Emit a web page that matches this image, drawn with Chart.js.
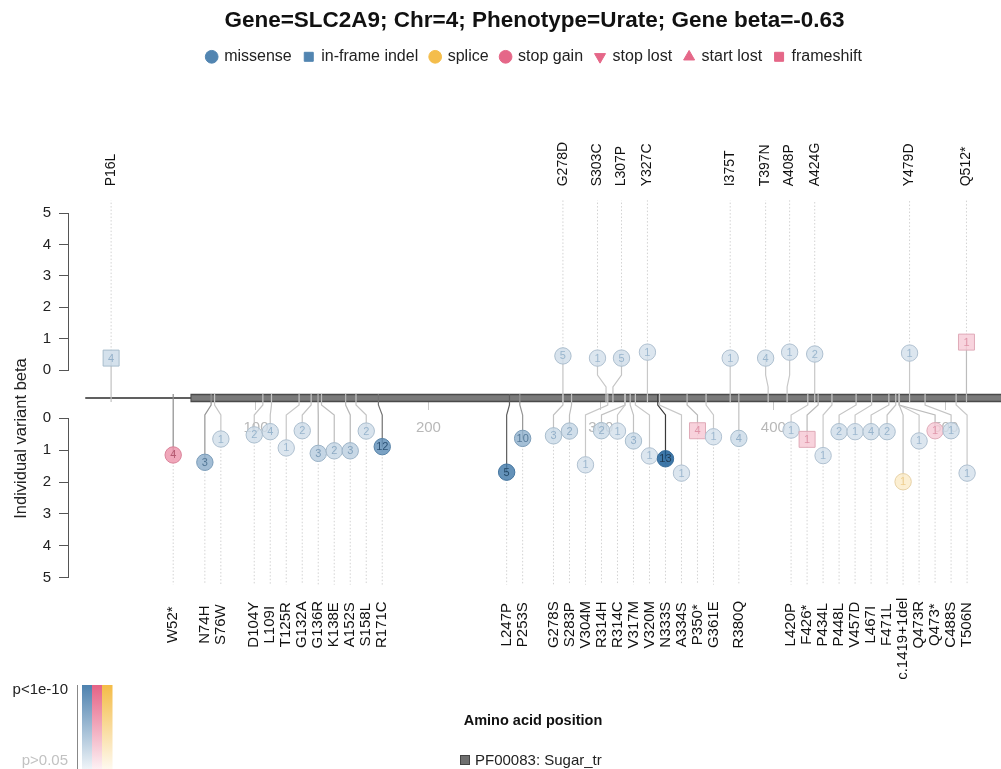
<!DOCTYPE html>
<html>
<head>
<meta charset="utf-8">
<title>SLC2A9 lollipop</title>
<script src="https://cdn.jsdelivr.net/npm/chart.js@4.4.1/dist/chart.umd.min.js"></script>
<style>
  html, body { margin: 0; padding: 0; background: #fff; }
</style>
</head>
<body>
<canvas id="lolli" width="1001" height="769"></canvas>
<script>
// variants with a positive beta (drawn above the protein)
const upperNames = ['P16L', 'G278D', 'S303C', 'L307P', 'Y327C', 'I375T', 'T397N', 'A408P', 'A424G', 'Y479D', 'Q512*'];
const upperPos = [16, 278, 303, 307, 327, 375, 397, 408, 424, 479, 512];
const upperBeta = [0.38, 0.45, 0.38, 0.38, 0.57, 0.38, 0.38, 0.57, 0.51, 0.54, 0.89];
const upperCount = [4, 5, 1, 5, 1, 1, 4, 1, 2, 1, 1];
const upperType = ['in-frame indel', 'missense', 'missense', 'missense', 'missense', 'missense',
  'missense', 'missense', 'missense', 'missense', 'frameshift'];
const upperLogP = [2.0, 1.8, 1.6, 1.8, 1.6, 1.6, 1.7, 1.6, 1.7, 1.6, 2.3];

// variants with a negative beta (drawn below the protein)
const lowerNames = ['W52*', 'N74H', 'S76W', 'D104Y', 'L109I', 'T125R', 'G132A', 'G136R', 'K138E', 'A152S',
  'S158L', 'R171C', 'L247P', 'P253S', 'G278S', 'S283P', 'V304M', 'R314H', 'R314C', 'V317M', 'V320M',
  'N333S', 'A334S', 'P350*', 'G361E', 'R380Q', 'L420P', 'F426*', 'P434L', 'P448L', 'V457D', 'L467I',
  'F471L', 'c.1419+1del', 'Q473R', 'Q473*', 'C488S', 'T506N'];
const lowerPos = [52, 74, 76, 104, 109, 125, 132, 136, 138, 152, 158, 171, 247, 253, 278, 283, 304, 314, 314,
  317, 320, 333, 334, 350, 361, 380, 420, 426, 434, 448, 457, 467, 471, 473, 473, 473, 488, 506];
const lowerBeta = [-1.15, -1.38, -0.65, -0.52, -0.42, -0.93, -0.39, -1.10, -1.02, -1.02, -0.40, -0.89, -1.69,
  -0.63, -0.55, -0.40, -1.46, -0.39, -0.40, -0.71, -1.18, -1.27, -1.72, -0.39, -0.58, -0.63, -0.37, -0.66,
  -1.17, -0.42, -0.42, -0.42, -0.42, -1.99, -0.71, -0.39, -0.39, -1.72];
const lowerCount = [4, 3, 1, 2, 4, 1, 2, 3, 2, 3, 2, 12, 5, 10, 3, 2, 1, 2, 1, 3, 1, 13, 1, 4, 1, 4, 1, 1, 1,
  2, 1, 4, 2, 1, 1, 1, 1, 1];
const lowerType = ['stop gain', 'missense', 'missense', 'missense', 'missense', 'missense', 'missense',
  'missense', 'missense', 'missense', 'missense', 'missense', 'missense', 'missense', 'missense', 'missense',
  'missense', 'missense', 'missense', 'missense', 'missense', 'missense', 'missense', 'frameshift',
  'missense', 'missense', 'missense', 'frameshift', 'missense', 'missense', 'missense', 'missense',
  'missense', 'splice', 'missense', 'stop gain', 'missense', 'missense'];
const lowerLogP = [5.0, 4.6, 1.7, 1.8, 1.8, 1.6, 1.8, 2.8, 2.2, 2.6, 1.8, 6.6, 7.8, 4.5, 2.0, 2.2, 1.6, 2.0,
  1.6, 2.0, 1.6, 9.8, 1.6, 2.4, 1.6, 2.0, 1.6, 2.4, 1.6, 1.8, 1.6, 1.8, 1.8, 2.0, 1.6, 2.3, 1.8, 1.6];

const variantTypes = ['missense', 'in-frame indel', 'splice', 'stop gain', 'stop lost', 'start lost', 'frameshift'];
const xTicks = [100, 200, 300, 400, 500];
const proteinLength = 540;
const domainName = 'PF00083: Sugar_tr';
const domainStart = 62;
const domainEnd = 540;
const title = 'Gene=SLC2A9; Chr=4; Phenotype=Urate; Gene beta=-0.63';

const FONT = '"Liberation Sans", Arial, sans-serif';
Chart.defaults.font.family = FONT;

const typeStyle = {
  'missense': { shape: 'circle', rgb: [58, 116, 166] },
  'in-frame indel': { shape: 'rect', rgb: [58, 116, 166] },
  'splice': { shape: 'circle', rgb: [243, 180, 50] },
  'stop gain': { shape: 'circle', rgb: [226, 82, 120] },
  'stop lost': { shape: 'triangle', rot: 180, rgb: [226, 82, 120] },
  'start lost': { shape: 'triangle', rgb: [226, 82, 120] },
  'frameshift': { shape: 'rect', rgb: [226, 82, 120] }
};

// the plot area is 933px wide; the protein runs off its right edge
const pxPerAA = 1.7245;
const xMin = -9, xMax = xMin + 933 / pxPerAA;

function shadeOf(mlp) { return Math.max(0, Math.min(1, (mlp - 1.3) / 8.7)); }
function mixRgb(rgb, f) { return rgb.map(c => Math.round(255 - f * (255 - c))); }

function pointColors(type, mlp) {
  const s = shadeOf(mlp), f = 0.15 + 0.85 * s, base = typeStyle[type].rgb;
  const a = 0.82;
  const t = mixRgb(base, f).map(c => Math.max(0, Math.round(255 - (255 - c) / a)));
  const b = mixRgb(base, Math.min(1, f + 0.15)).map(c => Math.round(c * 0.92));
  const tx = mixRgb(base, Math.min(1, f + 0.3)).map(c => Math.round(c * (1 - 0.5 * s)));
  const g = Math.round(205 - 150 * s);
  return { fill: `rgba(${t},${a})`, border: `rgb(${b})`, text: `rgb(${tx})`, stem: `rgb(${g},${g},${g})` };
}

// push overlapping lollipops apart, each group centred on its mean position
function spread(pos, gap) {
  const groups = [];
  pos.forEach(p => {
    groups.push({ n: 1, sum: p });
    while (groups.length > 1) {
      const g = groups[groups.length - 1], prev = groups[groups.length - 2];
      const first = g.sum / g.n - (g.n - 1) * gap / 2;
      const last = prev.sum / prev.n + (prev.n - 1) * gap / 2;
      if (first - last >= gap) break;
      prev.n += g.n; prev.sum += g.sum; groups.pop();
    }
  });
  const out = [];
  groups.forEach(g => {
    const c = g.sum / g.n;
    for (let k = 0; k < g.n; k++) out.push(c - (g.n - 1) * gap / 2 + k * gap);
  });
  return out;
}

function pointDataset(label, axis, pos, beta, types, logp, gap) {
  const shown = spread(pos, gap);
  const cols = types.map((t, i) => pointColors(t, logp[i]));
  return {
    label: label, type: 'line', showLine: false, yAxisID: axis, order: 1,
    data: shown.map((x, i) => ({ x: x, y: beta[i] })),
    pointStyle: types.map(t => typeStyle[t].shape),
    pointRotation: types.map(t => typeStyle[t].rot || 0),
    pointRadius: types.map(t => typeStyle[t].shape === 'rect' ? 11.3 : 8.2),
    pointBackgroundColor: cols.map(c => c.fill),
    pointBorderColor: cols.map(c => c.border),
    pointBorderWidth: 1
  };
}

function legendColor(t) { return `rgb(${mixRgb(typeStyle[t].rgb, 0.88)})`; }

function drawSide(chart, metaIndex, pos, types, logp, side) {
  const { ctx, chartArea } = chart;
  const xs = chart.scales.x, ym = chart.scales.yM;
  const pts = chart.getDatasetMeta(metaIndex).data;
  pts.forEach((pt, i) => {
    const c = pointColors(types[i], logp[i]);
    const x0 = xs.getPixelForValue(pos[i]);
    // dotted stem to the label
    ctx.save();
    ctx.strokeStyle = '#d2d2d2';
    ctx.lineWidth = 1;
    ctx.setLineDash([1.5, 2]);
    ctx.beginPath();
    ctx.moveTo(pt.x, pt.y);
    ctx.lineTo(pt.x, side > 0 ? chartArea.top - 13 : chartArea.bottom + 7);
    ctx.stroke();
    ctx.restore();
    // solid connector from protein to point
    const yA = ym.getPixelForValue(-4 * side);
    const yB = ym.getPixelForValue(side > 0 ? 11 : -7);
    const yC = ym.getPixelForValue(side > 0 ? 23 : -17);
    ctx.save();
    ctx.strokeStyle = c.stem;
    ctx.lineWidth = 1.2;
    ctx.beginPath();
    ctx.moveTo(x0, yA);
    ctx.lineTo(x0, yB);
    ctx.lineTo(pt.x, yC);
    ctx.lineTo(pt.x, pt.y);
    ctx.stroke();
    ctx.restore();
  });
}

const lollipopPlugin = {
  id: 'lollipop',
  afterDatasetDraw(chart, args) {
    if (args.index !== 2) return;
    drawSide(chart, 3, upperPos, upperType, upperLogP, 1);
    drawSide(chart, 4, lowerPos, lowerType, lowerLogP, -1);
  },
  afterDatasetsDraw(chart) {
    const { ctx } = chart;
    ctx.save();
    ctx.font = '11px ' + FONT;
    ctx.textAlign = 'center';
    ctx.textBaseline = 'middle';
    [[3, upperCount, upperType, upperLogP], [4, lowerCount, lowerType, lowerLogP]].forEach(([m, cnt, types, logp]) => {
      chart.getDatasetMeta(m).data.forEach((pt, i) => {
        ctx.fillStyle = pointColors(types[i], logp[i]).text;
        ctx.fillText(String(cnt[i]), pt.x, pt.y + 0.5);
      });
    });
    ctx.restore();
  },
  afterDraw(chart) {
    const { ctx, chartArea } = chart;
    ctx.save();
    ctx.fillStyle = '#111';
    ctx.textBaseline = 'middle';
    ctx.font = '14px ' + FONT;
    chart.getDatasetMeta(3).data.forEach((pt, i) => {
      ctx.save();
      ctx.translate(pt.x, chartArea.top - 27);
      ctx.rotate(-Math.PI / 2);
      ctx.textAlign = 'left';
      ctx.fillText(upperNames[i], 0, 0);
      ctx.restore();
    });
    ctx.font = '15px ' + FONT;
    chart.getDatasetMeta(4).data.forEach((pt, i) => {
      const len = ctx.measureText(lowerNames[i]).width;
      const top = Math.max(chartArea.bottom + 20, chartArea.bottom + 47 - len / 2);
      ctx.save();
      ctx.translate(pt.x, top);
      ctx.rotate(-Math.PI / 2);
      ctx.textAlign = 'right';
      ctx.fillText(lowerNames[i], 0, 0);
      ctx.restore();
    });

    // y axis title
    ctx.save();
    ctx.font = '16.5px ' + FONT;
    ctx.fillStyle = '#222';
    ctx.translate(21, 438.5);
    ctx.rotate(-Math.PI / 2);
    ctx.textAlign = 'center';
    ctx.fillText('Individual variant beta', 0, 0);
    ctx.restore();

    // p-value colour key
    ctx.strokeStyle = '#888';
    ctx.lineWidth = 1;
    ctx.beginPath();
    ctx.moveTo(77.5, 685);
    ctx.lineTo(77.5, 769);
    ctx.stroke();
    [[82, [58, 116, 166]], [92, [226, 82, 120]], [102, [243, 180, 50]]].forEach(([x, rgb]) => {
      const g = ctx.createLinearGradient(0, 685, 0, 769);
      g.addColorStop(0, `rgb(${mixRgb(rgb, 0.9)})`);
      g.addColorStop(1, `rgb(${mixRgb(rgb, 0.08)})`);
      ctx.fillStyle = g;
      ctx.fillRect(x, 685, 10.5, 84);
    });
    ctx.font = '15px ' + FONT;
    ctx.textAlign = 'right';
    ctx.fillStyle = '#222';
    ctx.fillText('p<1e-10', 68, 690);
    ctx.fillStyle = '#c2c2c2';
    ctx.fillText('p>0.05', 68, 761);

    // x axis title and domain key
    ctx.textAlign = 'center';
    ctx.fillStyle = '#111';
    ctx.font = 'bold 14.5px ' + FONT;
    ctx.fillText('Amino acid position', 533, 721);
    ctx.fillStyle = '#6f6f6f';
    ctx.strokeStyle = '#444';
    ctx.fillRect(460, 755, 10, 10);
    ctx.strokeRect(460.5, 755.5, 9, 9);
    ctx.textAlign = 'left';
    ctx.fillStyle = '#222';
    ctx.font = '15px ' + FONT;
    ctx.fillText(domainName, 475, 761);
    ctx.restore();
  }
};

const yTickStyle = {
  ticks: { stepSize: 1, color: '#222', font: { size: 15 }, padding: 8 },
  grid: { drawOnChartArea: false, drawTicks: true, tickLength: 9, color: '#555' },
  border: { color: '#555', width: 1 }
};

new Chart(document.getElementById('lolli'), {
  type: 'line',
  data: {
    datasets: [
      { label: 'protein', yAxisID: 'yM', data: [{ x: 1, y: 0 }, { x: proteinLength, y: 0 }],
        borderColor: '#2b2b2b', borderWidth: 1.5, pointRadius: 0, order: 4 },
      { label: 'domain edge', yAxisID: 'yM', data: [{ x: domainStart, y: 0 }, { x: domainEnd, y: 0 }],
        borderColor: '#4a4a4a', borderWidth: 8.5, pointRadius: 0, order: 3 },
      { label: 'domain', yAxisID: 'yM', data: [{ x: domainStart + 0.6, y: 0 }, { x: domainEnd, y: 0 }],
        borderColor: '#7a7a7a', borderWidth: 5.5, pointRadius: 0, order: 2 },
      pointDataset('positive beta', 'yU', upperPos, upperBeta, upperType, upperLogP, 24 / pxPerAA),
      pointDataset('negative beta', 'yL', lowerPos, lowerBeta, lowerType, lowerLogP, 16 / pxPerAA)
    ]
  },
  options: {
    responsive: false,
    devicePixelRatio: 1,
    animation: false,
    events: [],
    layout: { autoPadding: false, padding: { left: 0, right: 0, top: 0, bottom: 191.3 } },
    plugins: {
      title: {
        display: true, fullSize: false, text: title, color: '#111',
        font: { size: 22.5, weight: 'bold' }, padding: { top: 7, bottom: 2.3 }
      },
      legend: {
        display: true, fullSize: false, position: 'top',
        onClick: () => {},
        labels: {
          usePointStyle: true, boxWidth: 9, boxHeight: 9, padding: 12.5,
          color: '#222', font: { size: 16 },
          generateLabels: () => variantTypes.map(t => ({
            text: t, fillStyle: legendColor(t), strokeStyle: legendColor(t), lineWidth: 1,
            pointStyle: typeStyle[t].shape, rotation: typeStyle[t].rot || 0, hidden: false, fontColor: '#222'
          }))
        }
      },
      tooltip: { enabled: false }
    },
    scales: {
      x: {
        type: 'linear', min: xMin, max: xMax,
        position: { yM: -4 },
        border: { display: false },
        grid: { drawOnChartArea: false, drawTicks: true, tickLength: 8, color: '#c8c8c8' },
        ticks: { color: '#b8b8b8', font: { size: 15 }, padding: 9, maxRotation: 0 },
        afterBuildTicks: s => { s.ticks = xTicks.map(v => ({ value: v })); },
        afterFit: s => { s.paddingLeft = 0; s.paddingRight = 0; }
      },
      xTop: {
        type: 'linear', position: 'top',
        grid: { display: false }, border: { display: false }, ticks: { display: false },
        afterFit: s => {
          const c = s.chart;
          s.height = Math.max(0, 213.3 - c.titleBlock.height - c.legend.height);
        }
      },
      yU: Object.assign({ type: 'linear', position: 'left', stack: 'beta', stackWeight: 156.7, weight: 3,
        min: 0, max: 5, afterFit: s => { s.width = 68; } }, yTickStyle),
      yM: { type: 'linear', position: 'left', stack: 'beta', stackWeight: 48.3, weight: 2,
        min: -20.3, max: 28,
        ticks: { display: false }, grid: { display: false }, border: { display: false },
        afterFit: s => { s.width = 68; } },
      yL: Object.assign({ type: 'linear', position: 'left', stack: 'beta', stackWeight: 159.4, weight: 1,
        min: -5, max: 0, afterFit: s => { s.width = 68; } }, {
        ticks: Object.assign({}, yTickStyle.ticks, { callback: v => Math.abs(v) }),
        grid: yTickStyle.grid, border: yTickStyle.border
      })
    }
  },
  plugins: [lollipopPlugin]
});
</script>
</body>
</html>
